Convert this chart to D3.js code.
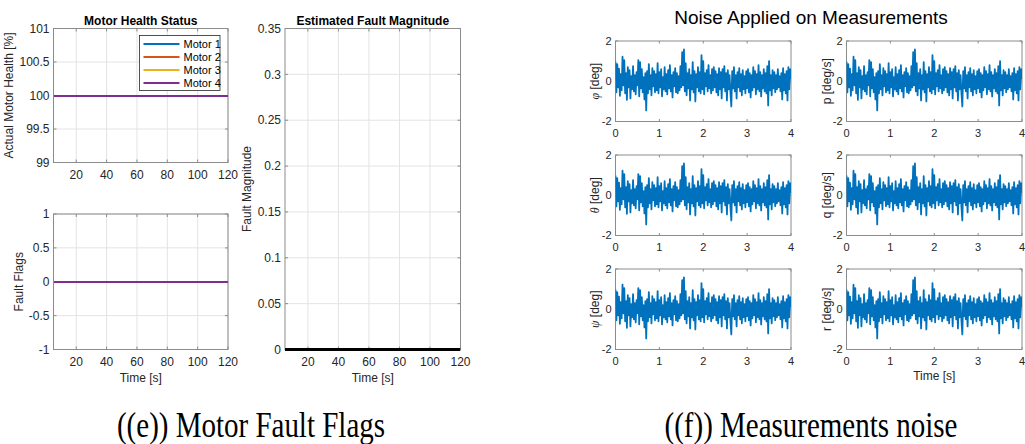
<!DOCTYPE html>
<html>
<head>
<meta charset="utf-8">
<script src="https://cdn.jsdelivr.net/npm/d3@7"></script>
<style>
  html, body { margin: 0; padding: 0; background: #fff; }
  svg { display: block; }
</style>
</head>
<body>
<svg id="fig" width="1025" height="444"></svg>
<script>
// ---- data ----
const motorNames = ["Motor 1", "Motor 2", "Motor 3", "Motor 4"];
const motorColors = ["#0072BD", "#D95319", "#EDB120", "#7E2F8E"];
const simTime = [5, 120];                 // s
const motorHealth = [                      // %
  [100, 100], [100, 100], [100, 100], [100, 100]
];
const faultFlags = [
  [0, 0], [0, 0], [0, 0], [0, 0]
];
const faultMagnitude = [0, 0];

const healthTicks = [99, 99.5, 100, 100.5, 101];
const flagTicks = [-1, -0.5, 0, 0.5, 1];
const magnitudeTicks = [0, 0.05, 0.1, 0.15, 0.2, 0.25, 0.3, 0.35];
const timeTicks = [20, 40, 60, 80, 100, 120];

// measurement noise, sampled every 0.02 s over 0..4 s
const noiseStep = 0.02;
const noise = [
  0.98, -0.55, 0.85, -0.3, 0.62, -0.72, 0.35, -0.45, 1.22, -0.2,
  1.05, -0.6, 0.4, -0.92, 0.7, -0.3, 0.55, -0.85, 0.25, -0.4,
  0.75, -0.5, 0.3, -0.65, 0.45, -0.2, 1.05, -0.75, 0.95, -0.35,
  0.6, -0.55, 0.2, -0.9, 0.4, -1.45, 0.5, -0.6, 0.85, -0.4,
  0.3, -0.7, 0.65, -0.25, 0.5, -0.55, 0.35, -0.45, 0.9, -0.6,
  0.45, -0.3, 0.6, -0.75, 0.2, -0.4, 0.7, -0.5, 0.35, -0.65,
  0.55, -0.35, 0.8, -0.5, 0.3, -0.8, 0.45, -0.25, 0.65, -0.55,
  0.4, -0.6, 0.25, -0.45, 0.75, -0.3, 1.45, -0.2, 1.58, -0.5,
  0.9, -0.7, 0.4, -0.35, 0.6, -0.95, 0.3, -0.4, 0.95, -0.55,
  0.5, -1.0, 0.35, -0.3, 0.7, -0.5, 0.45, -0.6, 1.3, -0.4,
  1.0, -0.65, 0.4, -0.25, 0.55, -0.5, 0.8, -0.35, 0.3, -0.6,
  0.6, -0.45, 0.7, -0.3, 0.5, -0.55, 0.35, -0.7, 0.65, -0.4,
  0.45, -0.85, 0.6, -0.3, 0.75, -0.5, 0.4, -0.95, 0.55, -0.4,
  0.3, -0.6, -1.25, 0.5, -0.35, 0.7, -0.5, 0.3, -0.85, 0.45,
  -0.3, 0.65, -0.5, 0.35, -0.7, 0.55, -0.4, 0.25, -0.6, 0.5,
  -0.35, 0.6, -0.55, 0.4, -0.8, 0.3, -0.45, 0.7, -0.3, 0.5,
  -0.65, 0.35, -0.4, 0.8, -0.5, 0.45, -0.75, 0.3, -0.35, 0.6,
  -0.5, 0.4, -0.6, 0.75, -1.2, 1.0, -0.45, 0.3, -0.7, 0.55,
  -0.35, 0.45, -0.55, 0.3, -0.4, 0.6, -0.3, 0.25, -0.5, 0.4,
  -0.9, 0.65, -0.45, 0.35, -0.6, 0.5, -0.95, 0.7, -0.4, 0.6,
  0.1
];
const noiseLabels = ["\u03C6 [deg]", "p [deg/s]", "\u03B8 [deg]", "q [deg/s]", "\u03C8 [deg]", "r [deg/s]"];
const noiseTimeTicks = [0, 1, 2, 3, 4];
const noiseValueTicks = [-2, 0, 2];

// ---- drawing ----
const svg = d3.select("#fig");
const FONT = "'Liberation Sans', Arial, Helvetica, sans-serif";
const AXIS_COLOR = "#8c8c8c";
const TEXT_COLOR = "#262626";
const GRID_COLOR = "#e3e3e3";
let clipId = 0;

function makeAxes(o) {
  const g = svg.append("g").attr("transform", `translate(${o.x},${o.y})`);
  const x = d3.scaleLinear().domain(o.xDomain).range([0, o.w]);
  const y = d3.scaleLinear().domain(o.yDomain).range([o.h, 0]);
  const fs = o.fontSize || 12;
  const tl = o.tickLen || 3;

  if (o.grid) {
    g.append("g").selectAll("line").data(o.xTicks).join("line")
      .attr("x1", d => x(d)).attr("x2", d => x(d))
      .attr("y1", 0).attr("y2", o.h)
      .attr("stroke", GRID_COLOR).attr("stroke-width", 1);
    g.append("g").selectAll("line").data(o.yTicks).join("line")
      .attr("x1", 0).attr("x2", o.w)
      .attr("y1", d => y(d)).attr("y2", d => y(d))
      .attr("stroke", GRID_COLOR).attr("stroke-width", 1);
  }

  // box and inward tick marks on all four sides
  g.append("rect").attr("x", 0).attr("y", 0).attr("width", o.w).attr("height", o.h)
    .attr("fill", "none").attr("stroke", AXIS_COLOR).attr("stroke-width", 1);
  const ticks = g.append("g").attr("stroke", AXIS_COLOR).attr("stroke-width", 1);
  o.xTicks.forEach(t => {
    ticks.append("line").attr("x1", x(t)).attr("x2", x(t)).attr("y1", o.h).attr("y2", o.h - tl);
    ticks.append("line").attr("x1", x(t)).attr("x2", x(t)).attr("y1", 0).attr("y2", tl);
  });
  o.yTicks.forEach(t => {
    ticks.append("line").attr("x1", 0).attr("x2", tl).attr("y1", y(t)).attr("y2", y(t));
    ticks.append("line").attr("x1", o.w).attr("x2", o.w - tl).attr("y1", y(t)).attr("y2", y(t));
  });

  const id = "clip" + (clipId++);
  g.append("clipPath").attr("id", id).append("rect")
    .attr("x", 0).attr("y", -2).attr("width", o.w).attr("height", o.h + 4);
  const plot = g.append("g").attr("clip-path", `url(#${id})`);

  // tick labels
  g.append("g").selectAll("text").data(o.xTicks).join("text")
    .attr("x", d => x(d)).attr("y", o.h + fs + 4)
    .attr("text-anchor", "middle")
    .attr("font-family", FONT).attr("font-size", fs).attr("fill", TEXT_COLOR)
    .text(d => d);
  g.append("g").selectAll("text").data(o.yTicks).join("text")
    .attr("x", -4).attr("y", d => y(d)).attr("dy", "0.35em")
    .attr("text-anchor", "end")
    .attr("font-family", FONT).attr("font-size", fs).attr("fill", TEXT_COLOR)
    .text(d => d);

  if (o.title) {
    g.append("text").attr("x", o.w / 2).attr("y", -4)
      .attr("text-anchor", "middle").attr("font-family", FONT)
      .attr("font-size", 12).attr("font-weight", "bold").attr("fill", "#000")
      .text(o.title);
  }
  if (o.xLabel) {
    g.append("text").attr("x", o.w / 2).attr("y", o.h + (o.xLabelOffset || 32))
      .attr("text-anchor", "middle").attr("font-family", FONT)
      .attr("font-size", o.labelSize || 12).attr("fill", TEXT_COLOR)
      .text(o.xLabel);
  }
  if (o.yLabel) {
    const t = g.append("text")
      .attr("transform", `translate(${-(o.yLabelOffset || 36)},${o.h / 2}) rotate(-90)`)
      .attr("text-anchor", "middle").attr("font-family", FONT)
      .attr("font-size", o.labelSize || 12).attr("fill", TEXT_COLOR);
    if (o.yLabelSymbol) {
      t.append("tspan").attr("font-style", "italic").attr("font-family", "'Liberation Serif', serif").text(o.yLabelSymbol);
      t.append("tspan").text(o.yLabel);
    } else {
      t.text(o.yLabel);
    }
  }

  return { g, plot, x, y };
}

// Motor health status
const ax1 = makeAxes({
  x: 53.5, y: 28.5, w: 174.5, h: 134,
  xDomain: simTime, yDomain: [99, 101],
  xTicks: timeTicks, yTicks: healthTicks, grid: true,
  title: "Motor Health Status", yLabel: "Actual Motor Health [%]", yLabelOffset: 41
});
motorHealth.forEach((series, i) => {
  ax1.plot.append("path")
    .datum(series.map((v, k) => [simTime[k], v]))
    .attr("d", d3.line().x(d => ax1.x(d[0])).y(d => ax1.y(d[1])))
    .attr("fill", "none").attr("stroke", motorColors[i]).attr("stroke-width", 2)
    .attr("shape-rendering", "crispEdges");
});
// legend
const leg = ax1.g.append("g").attr("transform", "translate(86,7)");
leg.append("rect").attr("width", 80.5).attr("height", 55)
  .attr("fill", "#fff").attr("stroke", "#262626").attr("stroke-width", 0.8);
motorNames.forEach((name, i) => {
  const yy = 8.5 + i * 13;
  leg.append("line").attr("x1", 4).attr("x2", 40).attr("y1", yy).attr("y2", yy)
    .attr("stroke", motorColors[i]).attr("stroke-width", 1.8);
  leg.append("text").attr("x", 44).attr("y", yy).attr("dy", "0.35em")
    .attr("font-family", FONT).attr("font-size", 11).attr("fill", "#000").text(name);
});

// Fault flags
const ax2 = makeAxes({
  x: 53.5, y: 214, w: 174.5, h: 135.5,
  xDomain: simTime, yDomain: [-1, 1],
  xTicks: timeTicks, yTicks: flagTicks, grid: true,
  yLabel: "Fault Flags", yLabelOffset: 31, xLabel: "Time [s]"
});
faultFlags.forEach((series, i) => {
  ax2.plot.append("path")
    .datum(series.map((v, k) => [simTime[k], v]))
    .attr("d", d3.line().x(d => ax2.x(d[0])).y(d => ax2.y(d[1])))
    .attr("fill", "none").attr("stroke", motorColors[i]).attr("stroke-width", 2)
    .attr("shape-rendering", "crispEdges");
});

// Estimated fault magnitude
const ax3 = makeAxes({
  x: 285, y: 28.5, w: 175.5, h: 321,
  xDomain: simTime, yDomain: [0, 0.35],
  xTicks: timeTicks, yTicks: magnitudeTicks, grid: true,
  title: "Estimated Fault Magnitude", yLabel: "Fault Magnitude", yLabelOffset: 34, xLabel: "Time [s]"
});
ax3.plot.append("path")
  .datum(faultMagnitude.map((v, k) => [simTime[k], v]))
  .attr("d", d3.line().x(d => ax3.x(d[0])).y(d => ax3.y(d[1])))
  .attr("fill", "none").attr("stroke", "#000").attr("stroke-width", 3);

// Noise panels
const noiseCols = [615.5, 846.5];
const noiseRows = [41, 155, 269];
noiseLabels.forEach((lab, i) => {
  const col = i % 2, row = Math.floor(i / 2);
  const isGreek = /^[\u0370-\u03FF]/.test(lab);
  const ax = makeAxes({
    x: noiseCols[col], y: noiseRows[row], w: 175.5, h: 80.5,
    xDomain: [0, 4], yDomain: [-2, 2],
    xTicks: noiseTimeTicks, yTicks: noiseValueTicks, grid: false,
    fontSize: 11, labelSize: 12, tickLen: 2.5,
    yLabel: isGreek ? lab.slice(1) : lab,
    yLabelSymbol: isGreek ? lab[0] : null,
    yLabelOffset: col === 0 ? 17 : 16,
    xLabel: i === 5 ? "Time [s]" : null, xLabelOffset: 30
  });
  ax.plot.append("path")
    .datum(noise.map((v, k) => [k * noiseStep, v]))
    .attr("d", d3.line().x(d => ax.x(d[0])).y(d => ax.y(d[1])))
    .attr("fill", "none").attr("stroke", "#0072BD").attr("stroke-width", 1.8)
    .attr("stroke-linejoin", "round");
});
svg.append("text").attr("x", 811).attr("y", 24)
  .attr("text-anchor", "middle").attr("font-family", FONT)
  .attr("font-size", 19).attr("fill", "#000")
  .text("Noise Applied on Measurements");

// Sub-figure captions (tall, narrow serif lettering)
const SERIF = "'Liberation Serif', 'Times New Roman', serif";
function caption(cx, text) {
  svg.append("text")
    .attr("transform", `translate(${cx},437) scale(1,1.2)`)
    .attr("text-anchor", "middle").attr("font-family", SERIF)
    .attr("font-size", 29).attr("fill", "#000").text(text);
}
caption(251, "((e)) Motor Fault Flags");
caption(811, "((f)) Measurements noise");
</script>
</body>
</html>
